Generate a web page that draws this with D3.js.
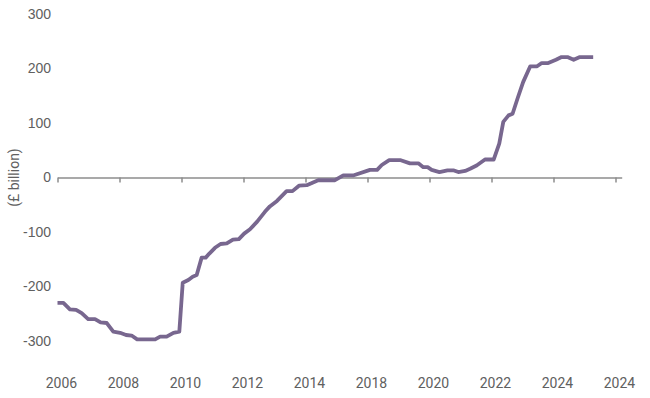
<!DOCTYPE html>
<html>
<head>
<meta charset="utf-8">
<script src="https://cdn.jsdelivr.net/npm/d3@7"></script>
<style>
	body { margin: 0; background: #fff; }
	svg#chart { display: block; font-family: Roboto, 'Liberation Sans', sans-serif; }
	.axis text, .x-labels text, .y-title { fill: #606060; font-size: 14px; }
	.axis .domain, .axis .tick line { stroke: #8c8c8c; stroke-width: 1.5; }
</style>
</head>
<body>
<svg id="chart" width="650" height="398"></svg>
<script>
// (decimal years, £ billion)
const dates = [
	2006.00, 2006.19, 2006.40, 2006.60, 2006.78, 2006.99, 2007.21, 2007.39, 2007.59, 2007.80,
	2008.02, 2008.21, 2008.39, 2008.57, 2009.15, 2009.31, 2009.52, 2009.74, 2009.93, 2010.04,
	2010.22, 2010.36, 2010.49, 2010.65, 2010.78, 2010.89, 2011.08, 2011.26, 2011.46, 2011.66,
	2011.85, 2012.02, 2012.21, 2012.44, 2012.69, 2012.85, 2013.08, 2013.39, 2013.58, 2013.79,
	2014.04, 2014.41, 2014.95, 2015.22, 2015.56, 2016.08, 2016.31, 2016.46, 2016.70, 2017.05,
	2017.37, 2017.64, 2017.80, 2017.94, 2018.07, 2018.32, 2018.58, 2018.79, 2018.93, 2019.15,
	2019.31, 2019.52, 2019.79, 2020.07, 2020.25, 2020.38, 2020.55, 2020.68, 2020.84, 2021.02,
	2021.25, 2021.47, 2021.62, 2021.83, 2022.08, 2022.26, 2022.45, 2022.65, 2022.85, 2023.28
];
const values = [
	-230, -230, -242, -243, -249, -260, -260, -266, -267, -283,
	-285, -289, -290, -297, -297, -292, -292, -285, -283, -193,
	-188, -182, -179, -147, -147, -140, -129, -122, -121, -114,
	-113, -103, -95, -81, -63, -53, -43, -25, -25, -15,
	-14, -5, -5, 4, 4, 14, 14, 23, 32, 32,
	26, 26, 19, 19, 14, 10, 13, 13, 10, 12,
	16, 22, 33, 33, 62, 102, 114, 117, 145, 175,
	204, 204, 210, 210, 216, 221, 221, 216, 221, 221
];

const xTickYears = [2006, 2008, 2010, 2012, 2014, 2016, 2018, 2020, 2022, 2024];
const xTickLabels = ['2006', '2008', '2010', '2012', '2014', '2018', '2020', '2022', '2024', '2024'];
const yTicks = [300, 200, 100, 0, -100, -200, -300];
const yTitle = '(£ billion)';

const svg = d3.select('svg#chart');

const x = d3.scaleLinear([2006, 2024.2], [57.5, 621.7]);
const y = d3.scaleLinear([-300, 300], [341, 14]);

const data = dates.map((d, i) => ({ date: d, value: values[i] }));

// zero line with small ticks hanging under it
svg.append('g')
	.attr('class', 'axis x-axis')
	.attr('transform', `translate(0, ${y(0)})`)
	.call(d3.axisBottom(x).tickValues(xTickYears).tickSize(5).tickSizeOuter(0).tickFormat(''));

svg.append('g')
	.attr('class', 'x-labels')
	.selectAll('text')
	.data(xTickYears)
	.join('text')
	.attr('x', d => x(d) + 4)
	.attr('y', 388)
	.attr('text-anchor', 'middle')
	.text((d, i) => xTickLabels[i]);

const yAxis = svg.append('g')
	.attr('class', 'axis y-axis')
	.attr('transform', 'translate(51, 0)')
	.call(d3.axisLeft(y).tickValues(yTicks).tickSize(0).tickPadding(0).tickFormat(d => String(d)));
yAxis.select('.domain').remove();

svg.append('text')
	.attr('class', 'y-title')
	.attr('transform', `translate(19, ${y(0)}) rotate(-90)`)
	.attr('text-anchor', 'middle')
	.text(yTitle);

const line = d3.line()
	.x(d => x(d.date))
	.y(d => y(d.value));

svg.append('path')
	.datum(data)
	.attr('d', line)
	.attr('fill', 'none')
	.attr('stroke', '#78678f')
	.attr('stroke-width', 3.8)
	.attr('stroke-linejoin', 'round');
</script>
</body>
</html>
